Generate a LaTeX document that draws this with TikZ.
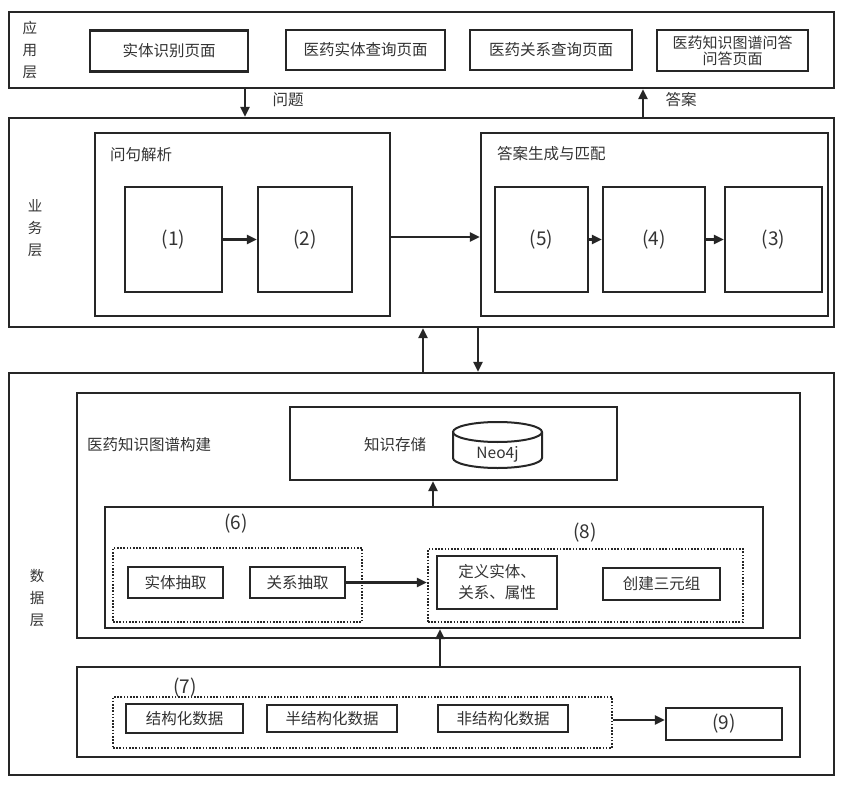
\documentclass[tikz,border=0pt]{standalone}
\usepackage{fontspec}
\setmainfont{Noto Sans CJK SC}
\usetikzlibrary{arrows.meta}
\definecolor{ln}{HTML}{262626}
\definecolor{tx}{HTML}{333333}
\begin{document}
\begin{tikzpicture}[x=1pt,y=-1pt,
 box/.style={draw=ln, line width=2.3pt, inner sep=0pt, text=tx, font=\fontsize{15.5}{18}\selectfont, align=center},
 outer/.style={draw=ln, line width=2.1pt, inner sep=0pt},
 dotbox/.style={draw=ln, line width=2.2pt, dash pattern=on 1.6pt off 1.6pt, inner sep=0pt},
 lbl/.style={text=tx, font=\fontsize{15.5}{17}\selectfont, inner sep=0pt},
 num/.style={font=\fontsize{19}{22}\selectfont},
 arr/.style={draw=ln, line width=2.3pt, -{Triangle[length=10pt,width=9pt]}},
 layer/.style={text=tx, font=\fontsize{14.5}{22}\selectfont, align=center, inner sep=0pt}]
\useasboundingbox (0,0) rectangle (849,789);
\fill[white] (0,0) rectangle (849,789);

% application layer
\node[outer, minimum width=825, minimum height=76] (app) at (421.5,50) {};
\node[layer] (appl) at (30,50) {应\\用\\层};
\node[box, minimum width=158, minimum height=41] (p1) at (169,51) {实体识别页面};
\node[box, minimum width=159, minimum height=40] (p2) at (365.5,50) {医药实体查询页面};
\node[box, minimum width=162, minimum height=40] (p3) at (551,50) {医药关系查询页面};
\node[box, minimum width=151, minimum height=41, font=\fontsize{15}{16}\selectfont] (p4) at (732.5,50.5) {医药知识图谱问答\\问答页面};

% business layer
\node[outer, minimum width=825, minimum height=209] (biz) at (421.5,222.5) {};
\node[layer] (bizl) at (35,228) {业\\务\\层};
\node[box, line width=2.1pt, minimum width=295, minimum height=183] (qa) at (242.5,224.5) {};
\node[lbl, anchor=west] (qat) at (110,155) {问句解析};
\node[box, num, minimum width=97, minimum height=105] (b1) at (173.5,239.5) {(1)};
\node[box, num, minimum width=94, minimum height=105] (b2) at (305,239.5) {(2)};
\node[box, line width=2.1pt, minimum width=347, minimum height=183] (ans) at (654.5,224.5) {};
\node[lbl, anchor=west] (anst) at (497,154) {答案生成与匹配};
\node[box, num, minimum width=93, minimum height=105] (b5) at (541.5,239.5) {(5)};
\node[box, num, minimum width=102, minimum height=105] (b4) at (654,239.5) {(4)};
\node[box, num, minimum width=97, minimum height=105] (b3) at (773.5,239.5) {(3)};

\coordinate (qx) at (245,0);
\coordinate (ax) at (643,0);
\draw[arr] (app.south -| qx) -- (biz.north -| qx);
\draw[arr] (biz.north -| ax) -- (app.south -| ax);
\node[lbl] (qlab) at (288,100) {问题};
\node[lbl] (alab) at (681,100) {答案};

\draw[arr] (b1) -- (b2);
\coordinate (my) at (0,237);
\draw[arr] (qa.east |- my) -- (ans.west |- my);
\draw[arr] (b5) -- (b4);
\draw[arr] (b4) -- (b3);

% data layer
\node[outer, minimum width=825, minimum height=402] (data) at (421.5,574) {};
\node[layer] (datal) at (37,598) {数\\据\\层};
\coordinate (ux) at (423,0);
\coordinate (dx) at (478,0);
\draw[arr] (data.north -| ux) -- (biz.south -| ux);
\draw[arr] (biz.south -| dx) -- (data.north -| dx);

\node[outer, minimum width=723, minimum height=245] (kg) at (438.5,515.5) {};
\node[lbl, anchor=west] (kgt) at (87,445) {医药知识图谱构建};
\node[box, minimum width=327, minimum height=73] (store) at (453.5,443.5) {};
\node[lbl] (storet) at (395,445) {知识存储};
\draw[draw=ln, line width=2pt, fill=white] (453,432) -- (453,458) arc[start angle=180, end angle=360, x radius=44.5pt, y radius=10pt] -- (542,432);
\draw[draw=ln, line width=2pt] (497.5,432) ellipse [x radius=44.5pt, y radius=10pt];
\node[lbl] (neo) at (497.5,454) {Neo4j};

\node[box, minimum width=658, minimum height=121] (ext) at (434,567.5) {};
\coordinate (sx) at (433,0);
\draw[arr] (ext.north -| sx) -- (store.south -| sx);
\node[lbl, num] (n6) at (236,524) {(6)};
\node[lbl, num] (n8) at (585,533) {(8)};
\node[dotbox, minimum width=249, minimum height=74] (dot1) at (237.5,585) {};
\node[box, minimum width=95, minimum height=31] (e1) at (175.5,582.5) {实体抽取};
\node[box, minimum width=95, minimum height=31] (e2) at (297.5,582.5) {关系抽取};
\node[dotbox, minimum width=315, minimum height=73] (dot2) at (585.5,585.5) {};
\node[box, minimum width=120, minimum height=53, font=\fontsize{15.5}{21}\selectfont] (def) at (497,582.5) {定义实体、\\关系、属性};
\node[box, minimum width=117, minimum height=32] (tri) at (661.5,584) {创建三元组};
\draw[arr] (e2) -- (dot2.west |- e2);

\node[outer, minimum width=723, minimum height=90] (src) at (438.5,712) {};
\coordinate (tx) at (440,0);
\draw[arr] (src.north -| tx) -- (ext.south -| tx);
\node[lbl, num] (n7) at (185,688) {(7)};
\node[dotbox, minimum width=499, minimum height=51] (dot3) at (362.5,722.5) {};
\node[box, minimum width=117, minimum height=29] (s1) at (184.5,718.5) {结构化数据};
\node[box, minimum width=130, minimum height=27] (s2) at (332,718.5) {半结构化数据};
\node[box, minimum width=130, minimum height=27] (s3) at (503,718.5) {非结构化数据};
\node[box, num, minimum width=116, minimum height=32] (b9) at (724,724) {(9)};
\coordinate (ay) at (0,720);
\draw[arr] (dot3.east |- ay) -- (b9.west |- ay);
\end{tikzpicture}
\end{document}
